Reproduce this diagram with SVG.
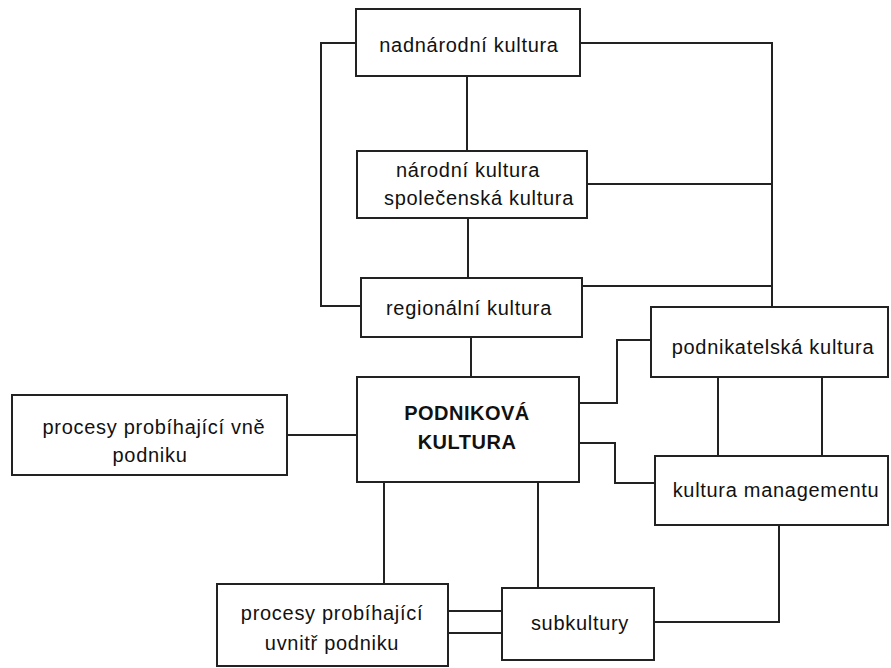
<svg xmlns="http://www.w3.org/2000/svg" width="891" height="668" viewBox="0 0 891 668">
<style>
.box{fill:#fff;stroke:#222;stroke-width:2}
.ln{fill:none;stroke:#222;stroke-width:2}
text{font-family:"Liberation Sans",Arial,sans-serif;font-size:20px;fill:#111;text-anchor:middle;letter-spacing:0.7px}
.b{font-weight:bold;letter-spacing:0.5px}
</style>
<rect width="891" height="668" fill="#fff"/>
<g id="connectors">
<path class="ln" d="M356,43 H321 V306 H361"/>
<path class="ln" d="M580,43 H772 V307"/>
<path class="ln" d="M587,184 H772"/>
<path class="ln" d="M582,286 H772"/>
<path class="ln" d="M467,76 V151"/>
<path class="ln" d="M468,218 V278"/>
<path class="ln" d="M471,337 V377"/>
<path class="ln" d="M579,403 H617 V340 H651"/>
<path class="ln" d="M579,443 H615 V483 H655"/>
<path class="ln" d="M718,377 V456"/>
<path class="ln" d="M822,377 V456"/>
<path class="ln" d="M287,435 H357"/>
<path class="ln" d="M384,482 V584"/>
<path class="ln" d="M538,482 V588"/>
<path class="ln" d="M448,611 H502"/>
<path class="ln" d="M448,633 H502"/>
<path class="ln" d="M654,622 H779 V525"/>
</g>
<g id="nadnarodni">
<rect class="box" x="356" y="9" width="224" height="67"/>
<text x="469" y="52">nadnárodní kultura</text>
</g>
<g id="narodni">
<rect class="box" x="357" y="151" width="230" height="67"/>
<text x="468" y="177">národní kultura</text>
<text x="479" y="205">společenská kultura</text>
</g>
<g id="regionalni">
<rect class="box" x="361" y="278" width="221" height="59"/>
<text x="469" y="315">regionální kultura</text>
</g>
<g id="podnikatelska">
<rect class="box" x="651" y="307" width="237" height="70"/>
<text x="773" y="354">podnikatelská kultura</text>
</g>
<g id="management">
<rect class="box" x="655" y="456" width="233" height="69"/>
<text x="776" y="497">kultura managementu</text>
</g>
<g id="podnikova">
<rect class="box" x="357" y="377" width="222" height="105"/>
<text class="b" x="467" y="420">PODNIKOVÁ</text>
<text class="b" x="467" y="449">KULTURA</text>
</g>
<g id="procesy-vne">
<rect class="box" x="12" y="395" width="275" height="80"/>
<text x="154" y="434">procesy probíhající vně</text>
<text x="150" y="462">podniku</text>
</g>
<g id="procesy-uvnitr">
<rect class="box" x="217" y="584" width="231" height="82"/>
<text x="332" y="620">procesy probíhající</text>
<text x="332" y="650">uvnitř podniku</text>
</g>
<g id="subkultury">
<rect class="box" x="502" y="588" width="152" height="72"/>
<text x="580" y="630">subkultury</text>
</g>
</svg>
